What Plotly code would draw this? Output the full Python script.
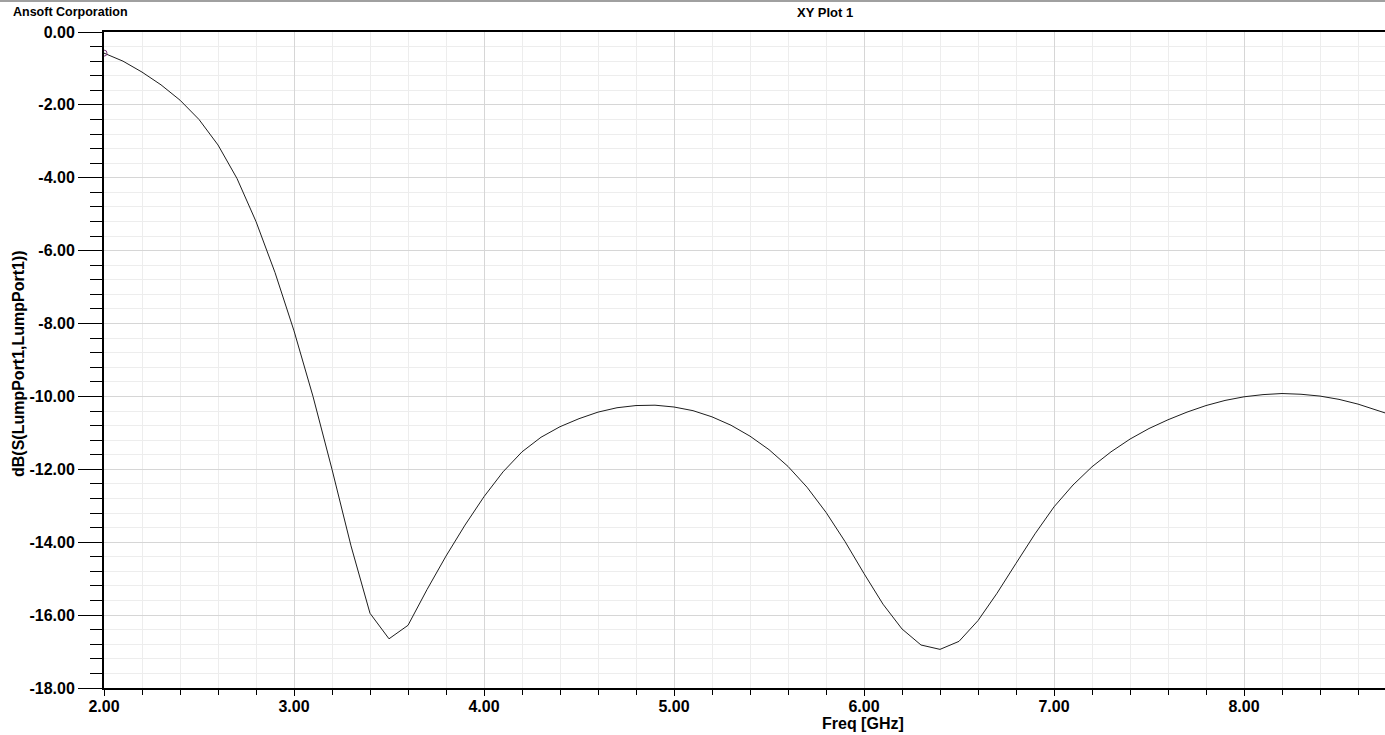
import plotly.graph_objects as go

# Frequency samples (GHz) and S11 magnitude (dB)
freq_ghz = [2.0, 2.1, 2.2, 2.3, 2.4, 2.5, 2.6, 2.7, 2.8, 2.9,
            3.0, 3.1, 3.2, 3.3, 3.4, 3.5, 3.6, 3.7, 3.8, 3.9,
            4.0, 4.1, 4.2, 4.3, 4.4, 4.5, 4.6, 4.7, 4.8, 4.9,
            5.0, 5.1, 5.2, 5.3, 5.4, 5.5, 5.6, 5.7, 5.8, 5.9,
            6.0, 6.1, 6.2, 6.3, 6.4, 6.5, 6.6, 6.7, 6.8, 6.9,
            7.0, 7.1, 7.2, 7.3, 7.4, 7.5, 7.6, 7.7, 7.8, 7.9,
            8.0, 8.1, 8.2, 8.3, 8.4, 8.5, 8.6, 8.7, 8.8]
s11_db = [-0.58, -0.80, -1.10, -1.45, -1.87, -2.40, -3.10, -4.02, -5.20, -6.60,
          -8.20, -10.00, -12.00, -14.10, -15.95, -16.65, -16.28, -15.30, -14.38, -13.53,
          -12.75, -12.07, -11.52, -11.12, -10.83, -10.61, -10.43, -10.31, -10.25, -10.24,
          -10.29, -10.39, -10.56, -10.79, -11.09, -11.46, -11.92, -12.49, -13.18, -13.98,
          -14.86, -15.70, -16.38, -16.82, -16.94, -16.72, -16.15, -15.40, -14.58, -13.77,
          -13.03, -12.43, -11.93, -11.52, -11.17, -10.88, -10.64, -10.43, -10.25, -10.11,
          -10.01, -9.95, -9.92, -9.94, -9.99, -10.08, -10.21, -10.37, -10.55]

# Axis tick labels as shown in the reference (hyphen-minus)
x_tick_vals = [2, 3, 4, 5, 6, 7, 8]
x_tick_text = ["2.00", "3.00", "4.00", "5.00", "6.00", "7.00", "8.00"]
y_tick_vals = [0, -2, -4, -6, -8, -10, -12, -14, -16, -18]
y_tick_text = ["0.00", "-2.00", "-4.00", "-6.00", "-8.00", "-10.00",
               "-12.00", "-14.00", "-16.00", "-18.00"]

company = "Ansoft Corporation"
plot_title = "XY Plot 1"
x_title = "Freq [GHz]"
y_title = "dB(S(LumpPort1,LumpPort1))"

W, H = 1385, 735
L, R, T, B = 104, 0, 32, 47
PW, PH = W - L - R, H - T - B
FONT = "Liberation Sans, Arial, sans-serif"

fig = go.Figure()
fig.add_trace(go.Scatter(x=freq_ghz, y=s11_db, mode="lines",
                         line=dict(color="#1e1e1e", width=1), showlegend=False,
                         hoverinfo="skip"))
fig.add_trace(go.Scatter(x=freq_ghz[:1], y=s11_db[:1], mode="markers",
                         marker=dict(symbol="circle-open", size=6,
                                     color="#7a3a7a", line=dict(width=1)),
                         showlegend=False, hoverinfo="skip"))

tickfont = dict(family=FONT, size=16, color="black", weight="bold")

fig.update_xaxes(range=[2, 2 + PW / 190.0], tickmode="array",
                 tickvals=x_tick_vals, ticktext=x_tick_text,
                 showgrid=True, gridcolor="#d6d6d6", gridwidth=1,
                 ticks="outside", ticklen=6, tickwidth=1, tickcolor="black",
                 showline=True, linecolor="black", linewidth=2, mirror=True,
                 zeroline=False, tickfont=tickfont, ticklabelstandoff=-3,
                 minor=dict(dtick=0.2, tick0=2, ticks="outside", ticklen=5,
                            tickcolor="black", showgrid=True,
                            gridcolor="#ededed", gridwidth=1))
fig.update_yaxes(range=[-18, 0], tickmode="array",
                 tickvals=y_tick_vals, ticktext=y_tick_text,
                 showgrid=True, gridcolor="#d6d6d6", gridwidth=1,
                 ticks="outside", ticklen=24, tickwidth=1, tickcolor="black",
                 showline=True, linecolor="black", linewidth=2,
                 zeroline=False, tickfont=tickfont, ticklabelstandoff=0,
                 minor=dict(dtick=0.4, tick0=0, ticks="outside", ticklen=12,
                            tickcolor="black", showgrid=True,
                            gridcolor="#ededed", gridwidth=1))

anns = [
    dict(text=company, xref="paper", yref="paper",
         x=(10.5 - L) / PW, y=1 + (T - 12.5) / PH, xanchor="left", yanchor="middle",
         showarrow=False, font=dict(family=FONT, size=12.5, color="black", weight="bold")),
    dict(text=plot_title, xref="paper", yref="paper",
         x=(825 - L) / PW, y=1 + (T - 12.5) / PH, xanchor="center", yanchor="middle",
         showarrow=False, font=dict(family=FONT, size=13, color="black", weight="bold")),
    dict(text=x_title, xref="paper", yref="paper",
         x=(863 - L) / PW, y=-(723 - (T + PH)) / PH, xanchor="center", yanchor="middle",
         showarrow=False, font=dict(family=FONT, size=16, color="black", weight="bold")),
    dict(text=y_title, xref="paper", yref="paper", textangle=-90,
         x=(18 - L) / PW, y=1 - (364 - T) / PH, xanchor="center", yanchor="middle",
         showarrow=False, font=dict(family=FONT, size=16, color="black", weight="bold")),
]

fig.update_layout(
    width=W, height=H,
    margin=dict(l=L, r=R, t=T, b=B, pad=0),
    paper_bgcolor="white", plot_bgcolor="white",
    annotations=anns,
    shapes=[dict(type="line", xref="paper", yref="paper",
                 x0=-L / PW, x1=1, y0=1 + (T - 1) / PH, y1=1 + (T - 1) / PH,
                 line=dict(color="#a0a0a0", width=2))],
)

fig.write_html("out.html", config={"displayModeBar": False},
               post_script="document.body.style.margin='0';document.body.style.overflow='hidden';")
